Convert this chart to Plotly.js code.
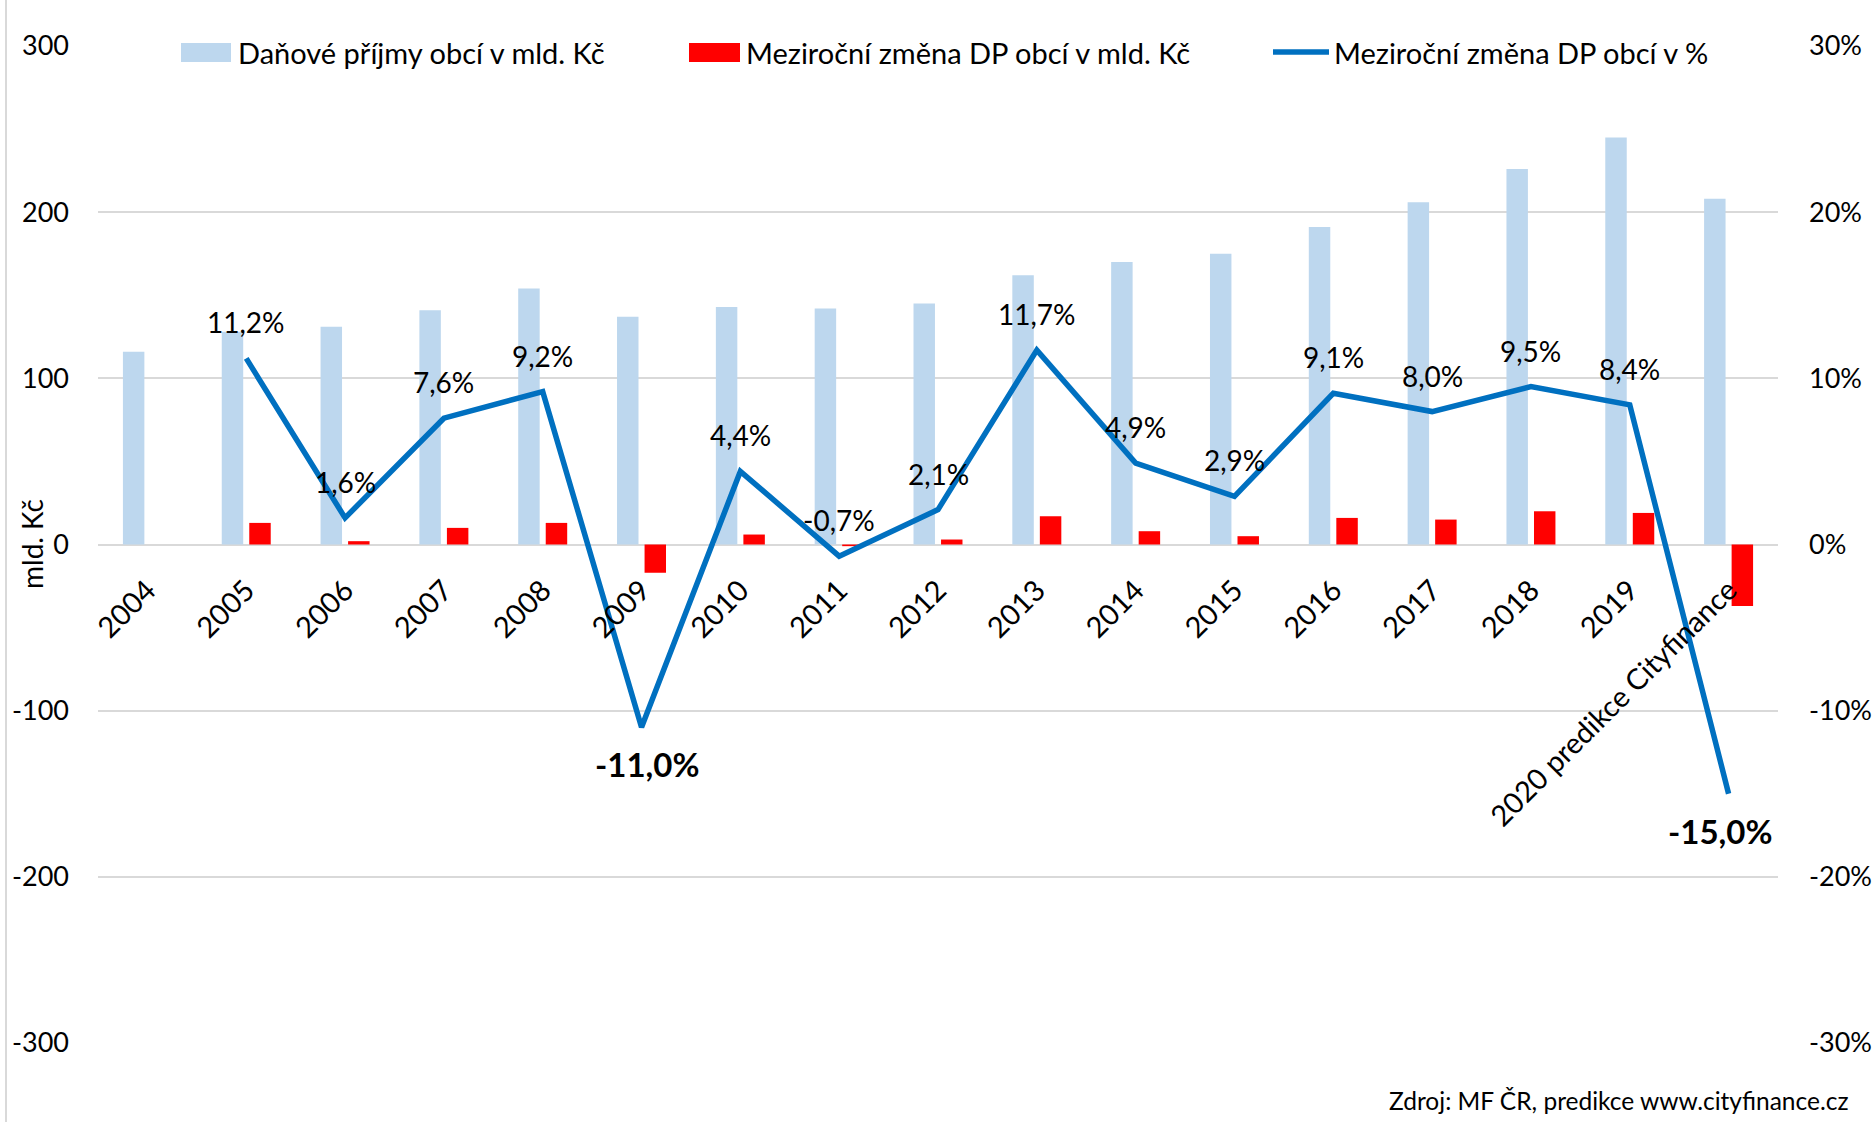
<!DOCTYPE html>
<html>
<head>
<meta charset="utf-8">
<script src="https://cdn.plot.ly/plotly-3.0.1.min.js"></script>
<style>
  html, body { margin: 0; padding: 0; background: #ffffff; }
  #chart { width: 1875px; height: 1122px; }
</style>
</head>
<body>
<div id="chart"></div>
<script>
// ---- data ----
const years = ['2004','2005','2006','2007','2008','2009','2010','2011','2012','2013','2014','2015','2016','2017','2018','2019','2020 predikce Cityfinance'];
const taxRevenueBn = [116, 128, 131, 141, 154, 137, 143, 142, 145, 162, 170, 175, 191, 206, 226, 245, 208];
const changeBn     = [null, 13, 2, 10, 13, -17, 6, -1, 3, 17, 8, 5, 16, 15, 20, 19, -37];
const changePct    = [null, 11.2, 1.6, 7.6, 9.2, -11.0, 4.4, -0.7, 2.1, 11.7, 4.9, 2.9, 9.1, 8.0, 9.5, 8.4, -15.0];

const leftTickVals  = [-300, -200, -100, 0, 100, 200, 300];
const leftTickText  = ['-300', '-200', '-100', '0', '100', '200', '300'];
const rightTickVals = [-30, -20, -10, 0, 10, 20, 30];
const rightTickText = ['-30%', '-20%', '-10%', '0%', '10%', '20%', '30%'];

const seriesNames = ['Daňové příjmy obcí v mld. Kč', 'Meziroční změna DP obcí v mld. Kč', 'Meziroční změna DP obcí v %'];
const sourceText = 'Zdroj: MF ČR, predikce www.cityfinance.cz';
const yTitle = 'mld. Kč';

// ---- styling ----
const FONT = 'Lato, "Open Sans", "DejaVu Sans", sans-serif';
const BLUE_BAR = '#BDD7EE';
const RED_BAR = '#FF0000';
const LINE = '#0070C0';
const GRID = '#D9D9D9';

// pixel -> paper helpers (plot area: x 98..1778, y 46..1043)
const L = 98, R = 1778, T = 46, B = 1043;
const px = x => (x - L) / (R - L);
const py = y => (B - y) / (B - T);

const traces = [
  {
    type: 'bar', name: seriesNames[0], x: years, y: taxRevenueBn,
    marker: { color: BLUE_BAR }, yaxis: 'y', showlegend: false
  },
  {
    type: 'bar', name: seriesNames[1], x: years, y: changeBn,
    marker: { color: RED_BAR }, yaxis: 'y', showlegend: false
  },
  {
    type: 'scatter', mode: 'lines', name: seriesNames[2], x: years, y: changePct,
    line: { color: LINE, width: 5.5 }, yaxis: 'y2', showlegend: false,
    connectgaps: false
  }
];

// data labels for the % line (category axis -> use category index)
const annotations = [];
changePct.forEach((v, i) => {
  if (v === null) return;
  const strong = v <= -10;
  annotations.push({
    xref: 'x', yref: 'y2', x: i, y: v,
    text: (strong ? '<b>' : '') + v.toFixed(1).replace('.', ',') + '%' + (strong ? '</b>' : ''),
    showarrow: false, xanchor: 'center', yanchor: 'middle',
    yshift: strong ? -37 : 36,
    xshift: strong ? (i === 5 ? 6 : -8) : 0,
    font: { family: FONT, size: strong ? 33 : 28, color: '#000000' }
  });
});

// custom legend
const legendItems = [
  { kind: 'bar', color: BLUE_BAR, x0: 181, x1: 231, textX: 236, name: seriesNames[0] },
  { kind: 'bar', color: RED_BAR, x0: 689, x1: 740, textX: 744, name: seriesNames[1] },
  { kind: 'line', color: LINE, x0: 1273, x1: 1329, textX: 1332, name: seriesNames[2] }
];
const shapes = [
  { type: 'rect', xref: 'paper', yref: 'paper', x0: px(176), x1: px(1716), y0: py(64), y1: py(40),
    fillcolor: '#ffffff', line: { width: 0 }, layer: 'above' },
  { type: 'line', xref: 'paper', yref: 'paper', x0: px(6), x1: px(6), y0: py(1122), y1: py(0),
    line: { color: GRID, width: 2 }, layer: 'above' }
];
legendItems.forEach(it => {
  if (it.kind === 'bar') {
    shapes.push({ type: 'rect', xref: 'paper', yref: 'paper', x0: px(it.x0), x1: px(it.x1), y0: py(62), y1: py(43),
      fillcolor: it.color, line: { width: 0 }, layer: 'above' });
  } else {
    shapes.push({ type: 'line', xref: 'paper', yref: 'paper', x0: px(it.x0), x1: px(it.x1), y0: py(52), y1: py(52),
      line: { color: it.color, width: 5.5 }, layer: 'above' });
  }
  annotations.push({
    xref: 'paper', yref: 'paper', x: px(it.textX), y: py(52), xanchor: 'left', yanchor: 'middle',
    text: it.name, showarrow: false, font: { family: FONT, size: 29, color: '#000000' }
  });
});

annotations.push({
  xref: 'paper', yref: 'paper', x: px(32), y: py(544), xanchor: 'center', yanchor: 'middle',
  text: yTitle, textangle: -90, showarrow: false, font: { family: FONT, size: 28, color: '#000000' }
});
annotations.push({
  xref: 'paper', yref: 'paper', x: px(1851), y: py(1100), xanchor: 'right', yanchor: 'middle',
  text: sourceText, showarrow: false, font: { family: FONT, size: 24.5, color: '#000000' }
});

const layout = {
  width: 1875, height: 1122,
  margin: { l: L, r: 1875 - R, t: T, b: 1122 - B, pad: 0 },
  paper_bgcolor: '#ffffff', plot_bgcolor: '#ffffff',
  font: { family: FONT, size: 27, color: '#000000' },
  barmode: 'group', bargap: 0.443, bargroupgap: 0.22,
  showlegend: false,
  xaxis: {
    type: 'category', categoryorder: 'array', categoryarray: years,
    range: [-0.5, years.length - 0.5], autorange: false,
    anchor: 'free', position: 0.5,
    showgrid: false, showline: false, zeroline: false,
    ticks: '', tickangle: -45, ticklabelstandoff: 22,
    tickfont: { family: FONT, size: 29, color: '#000000' }
  },
  yaxis: {
    range: [-300, 300], tickvals: leftTickVals, ticktext: leftTickText,
    showgrid: true, gridcolor: GRID, gridwidth: 2,
    zeroline: true, zerolinecolor: GRID, zerolinewidth: 2,
    showline: false, ticks: '', ticklabelstandoff: 28,
    tickfont: { family: FONT, size: 27, color: '#000000' }
  },
  yaxis2: {
    overlaying: 'y', side: 'right',
    range: [-30, 30], tickvals: rightTickVals, ticktext: rightTickText,
    showgrid: false, zeroline: false, showline: false, ticks: '', ticklabelstandoff: 30,
    tickfont: { family: FONT, size: 27, color: '#000000' }
  },
  shapes: shapes,
  annotations: annotations
};

Plotly.newPlot('chart', traces, layout, { displayModeBar: false, staticPlot: true });
</script>
</body>
</html>
